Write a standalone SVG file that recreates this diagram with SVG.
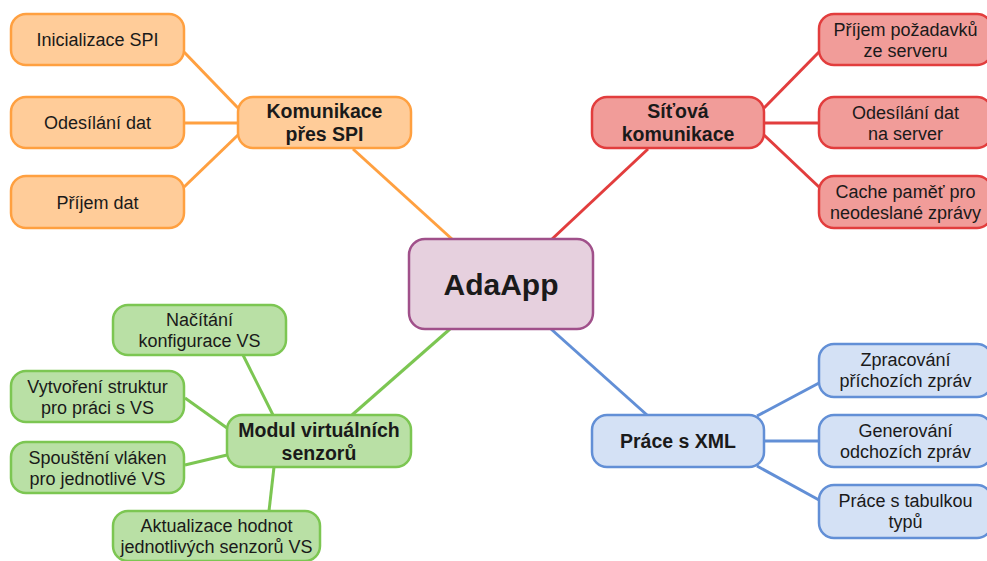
<svg xmlns="http://www.w3.org/2000/svg" width="987" height="561" viewBox="0 0 987 561">
<style>
.n rect{stroke-width:2.5}
.o rect{fill:#ffcc99;stroke:#ffa040}
.r rect{fill:#f19c99;stroke:#e23d3d}
.g rect{fill:#b9e0a5;stroke:#7cc652}
.b rect{fill:#d4e1f5;stroke:#628fd6}
.p rect{fill:#e6d0de;stroke:#a0508a}
text{font-family:"Liberation Sans",Arial,sans-serif;fill:#1a1a1a;text-anchor:middle}
.t{font-size:18px}
.bt{font-size:19.5px;font-weight:bold}
.big{font-size:30px;font-weight:bold}
#edges line{stroke-width:3;fill:none}
.eo{stroke:#ffa040}.er{stroke:#e23d3d}.eg{stroke:#7cc652}.eb{stroke:#628fd6}
</style>
<rect width="987" height="561" fill="#ffffff"/>
<g id="edges">
<line class="eo" x1="184" y1="52" x2="238" y2="108"/>
<line class="eo" x1="184" y1="123" x2="238" y2="123"/>
<line class="eo" x1="184" y1="187" x2="238" y2="135"/>
<line class="eo" x1="353" y1="149" x2="453" y2="240"/>
<line class="er" x1="764" y1="108" x2="819" y2="52"/>
<line class="er" x1="764" y1="123" x2="819" y2="123"/>
<line class="er" x1="764" y1="135" x2="819" y2="187"/>
<line class="er" x1="648" y1="149" x2="551" y2="240"/>
<line class="eg" x1="243" y1="355" x2="273" y2="415"/>
<line class="eg" x1="185" y1="398" x2="227" y2="428"/>
<line class="eg" x1="185" y1="465" x2="227" y2="455"/>
<line class="eg" x1="274" y1="467" x2="269" y2="511"/>
<line class="eg" x1="352" y1="415" x2="450" y2="329"/>
<line class="eb" x1="757" y1="416" x2="819" y2="383"/>
<line class="eb" x1="764" y1="441" x2="819" y2="441"/>
<line class="eb" x1="757" y1="466" x2="819" y2="500"/>
<line class="eb" x1="647" y1="415" x2="551" y2="329"/>
</g>
<g id="adaapp" class="n p"><rect x="409" y="239" width="184" height="90" rx="16"/><text class="big" x="501" y="295">AdaApp</text></g>
<g id="spi" class="n o"><rect x="238" y="97" width="173" height="51" rx="15"/><text class="bt" x="324.5" y="118">Komunikace</text><text class="bt" x="324.5" y="141">přes SPI</text></g>
<g id="spi-init" class="n o"><rect x="11" y="14" width="173" height="51" rx="15"/><text class="t" x="97.5" y="46">Inicializace SPI</text></g>
<g id="spi-send" class="n o"><rect x="11" y="97" width="173" height="51" rx="15"/><text class="t" x="97.5" y="129">Odesílání dat</text></g>
<g id="spi-recv" class="n o"><rect x="11" y="176" width="173" height="52" rx="15"/><text class="t" x="97.5" y="208.5">Příjem dat</text></g>
<g id="net" class="n r"><rect x="592" y="97" width="172" height="51" rx="15"/><text class="bt" x="678" y="118">Síťová</text><text class="bt" x="678" y="141">komunikace</text></g>
<g id="net-req" class="n r"><rect x="819" y="14" width="173" height="51" rx="15"/><text class="t" x="905.5" y="35.5">Příjem požadavků</text><text class="t" x="905.5" y="56.5">ze serveru</text></g>
<g id="net-send" class="n r"><rect x="819" y="97" width="173" height="51" rx="15"/><text class="t" x="905.5" y="118.5">Odesílání dat</text><text class="t" x="905.5" y="139.5">na server</text></g>
<g id="net-cache" class="n r"><rect x="819" y="176" width="173" height="52" rx="15"/><text class="t" x="905.5" y="198">Cache paměť pro</text><text class="t" x="905.5" y="219">neodeslané zprávy</text></g>
<g id="vs" class="n g"><rect x="227" y="415" width="184" height="52" rx="15"/><text class="bt" x="319" y="437">Modul virtuálních</text><text class="bt" x="319" y="460">senzorů</text></g>
<g id="vs-conf" class="n g"><rect x="113" y="305" width="173" height="50" rx="15"/><text class="t" x="199.5" y="326">Načítání</text><text class="t" x="199.5" y="347">konfigurace VS</text></g>
<g id="vs-struct" class="n g"><rect x="11" y="371" width="173" height="51" rx="15"/><text class="t" x="97.5" y="392.5">Vytvoření struktur</text><text class="t" x="97.5" y="413.5">pro práci s VS</text></g>
<g id="vs-threads" class="n g"><rect x="11" y="442" width="173" height="51" rx="15"/><text class="t" x="97.5" y="463.5">Spouštění vláken</text><text class="t" x="97.5" y="484.5">pro jednotlivé VS</text></g>
<g id="vs-update" class="n g"><rect x="113" y="511" width="207" height="50" rx="15"/><text class="t" x="216.5" y="532">Aktualizace hodnot</text><text class="t" x="216.5" y="553">jednotlivých senzorů VS</text></g>
<g id="xml" class="n b"><rect x="592" y="415" width="172" height="52" rx="15"/><text class="bt" x="678" y="448">Práce s XML</text></g>
<g id="xml-in" class="n b"><rect x="819" y="344" width="173" height="53" rx="15"/><text class="t" x="905.5" y="366">Zpracování</text><text class="t" x="905.5" y="387">příchozích zpráv</text></g>
<g id="xml-out" class="n b"><rect x="819" y="415" width="173" height="52" rx="15"/><text class="t" x="905.5" y="436.5">Generování</text><text class="t" x="905.5" y="457.5">odchozích zpráv</text></g>
<g id="xml-types" class="n b"><rect x="819" y="485" width="173" height="53" rx="15"/><text class="t" x="905.5" y="507">Práce s tabulkou</text><text class="t" x="905.5" y="528">typů</text></g>
</svg>
